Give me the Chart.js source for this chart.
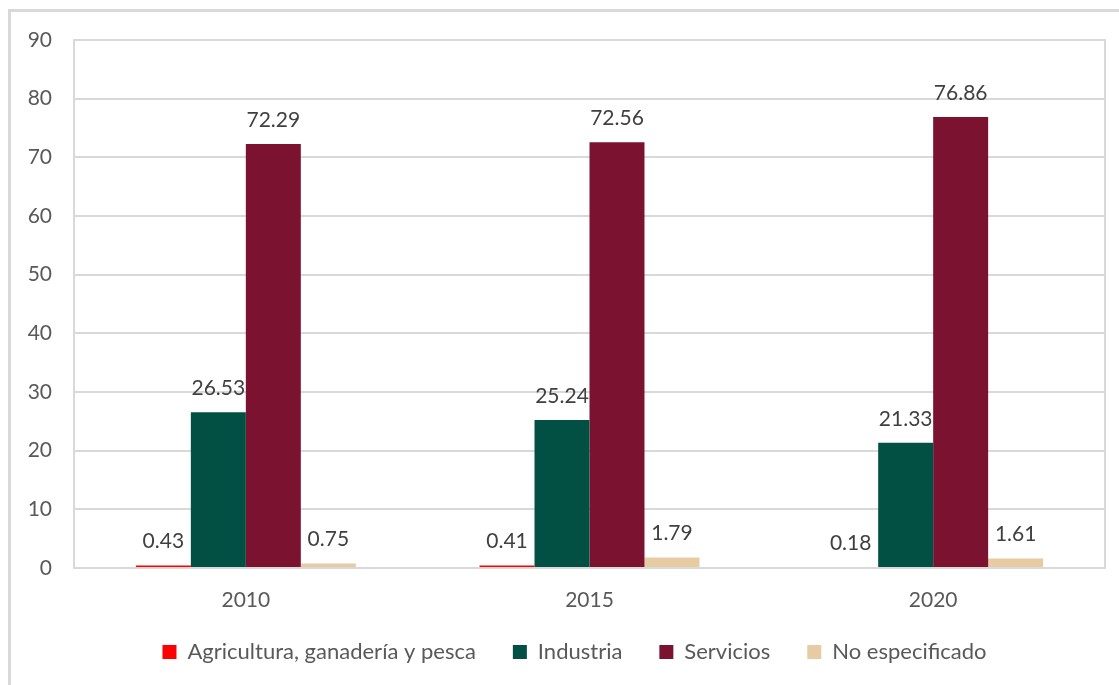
<!DOCTYPE html>
<html>
<head>
<meta charset="utf-8">
<script src="https://cdn.jsdelivr.net/npm/chart.js@4.4.1/dist/chart.umd.min.js"></script>
<style>
  html, body { margin: 0; padding: 0; background: #ffffff; }
  #wrap { width: 1119px; height: 685px; position: relative; }
</style>
</head>
<body>
<div id="wrap"><canvas id="c" width="1119" height="685"></canvas></div>
<script>
const categories = ['2010', '2015', '2020'];
const seriesNames = ['Agricultura, ganadería y pesca', 'Industria', 'Servicios', 'No especificado'];
const agricultura = [0.43, 0.41, 0.18];
const industria = [26.53, 25.24, 21.33];
const servicios = [72.29, 72.56, 76.86];
const noEspecificado = [0.75, 1.79, 1.61];
const seriesColors = ['#FF0000', '#015043', '#7A1230', '#E6CBA3'];
const yTicks = [0, 10, 20, 30, 40, 50, 60, 70, 80, 90];

const FONT = 'Lato, "Open Sans", sans-serif';

const framePlugin = {
  id: 'frame',
  beforeDraw(chart) {
    const ctx = chart.ctx;
    ctx.save();
    ctx.fillStyle = '#ffffff';
    ctx.fillRect(0, 0, chart.width, chart.height);
    ctx.strokeStyle = '#D9D9D9';
    ctx.lineWidth = 3;
    ctx.strokeRect(9.5, 10.5, chart.width + 20, chart.height + 20);
    ctx.restore();
  },
  afterDatasetsDraw(chart) {
    const a = chart.chartArea;
    const ctx = chart.ctx;
    ctx.save();
    ctx.strokeStyle = '#D9D9D9';
    ctx.lineWidth = 2;
    ctx.strokeRect(a.left, a.top, a.right - a.left, a.bottom - a.top);
    ctx.restore();
  }
};

// nudge legend block: up and to the right (layout only)
const legendShift = {
  id: 'legendShift',
  afterLayout(chart) {
    const L = chart.legend;
    if (!L) return;
    const dy = -12, dx = 22;
    L.top += dy; L.bottom += dy;
    L.left += dx; L.right += dx;
  }
};

const labelPlugin = {
  id: 'valueLabels',
  afterDatasetsDraw(chart) {
    const ctx = chart.ctx;
    ctx.save();
    ctx.font = '21px ' + FONT;
    ctx.fillStyle = '#404040';
    ctx.textAlign = 'center';
    ctx.textBaseline = 'middle';
    chart.data.datasets.forEach((ds, i) => {
      const meta = chart.getDatasetMeta(i);
      meta.data.forEach((bar, j) => {
        ctx.fillText(ds.data[j].toFixed(2), bar.x, bar.y - 24);
      });
    });
    ctx.restore();
  }
};

new Chart(document.getElementById('c'), {
  type: 'bar',
  data: {
    labels: categories,
    datasets: [
      { label: seriesNames[0], data: agricultura, backgroundColor: seriesColors[0] },
      { label: seriesNames[1], data: industria, backgroundColor: seriesColors[1] },
      { label: seriesNames[2], data: servicios, backgroundColor: seriesColors[2] },
      { label: seriesNames[3], data: noEspecificado, backgroundColor: seriesColors[3] }
    ]
  },
  options: {
    responsive: false,
    animation: false,
    layout: { padding: { left: 0, top: 40, right: 14, bottom: 0 } },
    datasets: { bar: { categoryPercentage: 0.64, barPercentage: 1.0 } },
    scales: {
      x: {
        grid: { display: false },
        border: { display: false },
        ticks: { color: '#595959', font: { family: FONT, size: 21 }, padding: 12 },
        afterFit(scale) { scale.height = 48; }
      },
      y: {
        min: 0, max: 90,
        afterBuildTicks(scale) { scale.ticks = yTicks.map(v => ({ value: v })); },
        grid: { color: '#D9D9D9', lineWidth: 2, drawTicks: false },
        border: { display: false },
        ticks: { color: '#595959', font: { family: FONT, size: 21 }, padding: 22 },
        afterFit(scale) { scale.width = 74; }
      }
    },
    plugins: {
      legend: {
        position: 'bottom',
        labels: {
          boxWidth: 14, boxHeight: 14, padding: 37,
          color: '#595959', font: { family: FONT, size: 22 }
        }
      },
      tooltip: { enabled: false }
    }
  },
  plugins: [framePlugin, legendShift, labelPlugin]
});
</script>
</body>
</html>
